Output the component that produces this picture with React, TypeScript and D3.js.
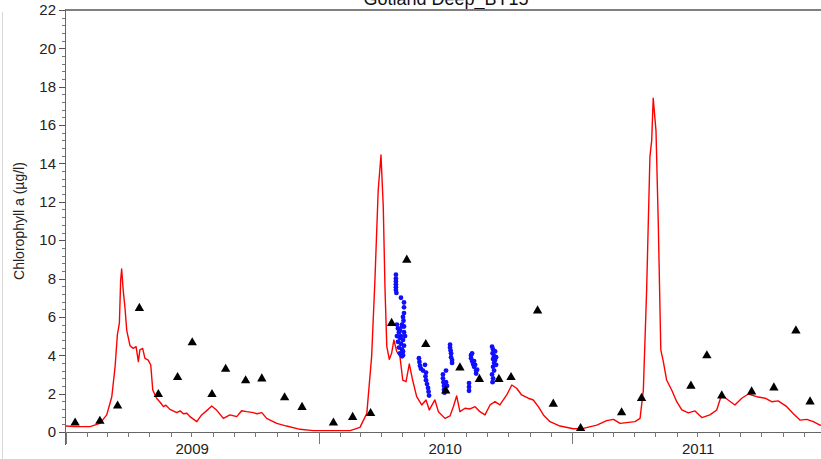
import React, { useEffect, useRef } from 'react'
import * as d3 from 'd3'

// model chlorophyll (decimal year, value)
const modelT = [
  2009.0, 2009.036, 2009.095, 2009.134, 2009.161, 2009.181, 2009.194, 2009.203, 2009.211, 2009.216,
  2009.22, 2009.226, 2009.233, 2009.24, 2009.253, 2009.266, 2009.277, 2009.286, 2009.292, 2009.303,
  2009.312, 2009.325, 2009.335, 2009.343, 2009.358, 2009.372, 2009.385, 2009.395, 2009.411, 2009.438,
  2009.451, 2009.464, 2009.478, 2009.49, 2009.517, 2009.536, 2009.562, 2009.576, 2009.596, 2009.622,
  2009.648, 2009.675, 2009.694, 2009.714, 2009.74, 2009.755, 2009.774, 2009.793, 2009.833, 2009.872,
  2009.925, 2009.977, 2010.03, 2010.123, 2010.162, 2010.189, 2010.208, 2010.221, 2010.234, 2010.245,
  2010.254, 2010.261, 2010.268, 2010.278, 2010.287, 2010.296, 2010.307, 2010.32, 2010.331, 2010.344,
  2010.357, 2010.37, 2010.386, 2010.406, 2010.423, 2010.436, 2010.458, 2010.472, 2010.498, 2010.518,
  2010.531, 2010.544, 2010.557, 2010.577, 2010.597, 2010.617, 2010.636, 2010.656, 2010.676, 2010.696,
  2010.715, 2010.742, 2010.762, 2010.781, 2010.801, 2010.827, 2010.847, 2010.867, 2010.887, 2010.913,
  2010.953, 2011.005, 2011.045, 2011.098, 2011.137, 2011.164, 2011.19, 2011.216, 2011.249, 2011.269,
  2011.282, 2011.295, 2011.308, 2011.315, 2011.321, 2011.332, 2011.341, 2011.351, 2011.361, 2011.374,
  2011.394, 2011.414, 2011.434, 2011.46, 2011.486, 2011.513, 2011.545, 2011.572, 2011.591, 2011.617,
  2011.644, 2011.671, 2011.697, 2011.73, 2011.763, 2011.789, 2011.815, 2011.849, 2011.875, 2011.901,
  2011.928, 2011.954, 2011.98, 2012.0
]
const modelV = [
  0.31, 0.28, 0.28, 0.45, 0.89, 1.84, 3.4, 5.06, 5.68, 7.9,
  8.5, 7.4, 6.5, 5.3, 4.5, 4.36, 4.45, 3.67, 4.28, 4.36,
  3.84, 3.75, 3.49, 2.19, 1.76, 1.55, 1.32, 1.4, 1.18, 1.01,
  1.1, 0.95, 0.98, 0.8, 0.54, 0.89, 1.18, 1.36, 1.13, 0.71,
  0.89, 0.8, 1.11, 1.06, 1.01, 0.95, 1.01, 0.71, 0.45, 0.31,
  0.14, 0.07, 0.07, 0.07, 0.24, 0.97, 3.93, 7.9, 12.6, 14.44,
  11.75, 7.4, 4.45, 3.79, 4.1, 4.8, 4.2, 3.93, 2.71, 2.62,
  3.55, 2.71, 1.84, 1.41, 1.67, 1.15, 1.67, 1.06, 0.71, 0.84,
  1.32, 1.88, 1.06, 1.24, 1.2, 1.32, 1.06, 0.89, 1.41, 1.58,
  1.41, 1.93, 2.45, 2.28, 1.93, 1.76, 1.67, 1.32, 0.89, 0.54,
  0.31, 0.17, 0.19, 0.36, 0.59, 0.66, 0.45, 0.49, 0.54, 0.71,
  2.19, 7.4, 14.35, 15.2, 17.4, 15.7, 10.9, 4.28, 3.67, 2.71,
  2.19, 1.58, 1.15, 1.0, 1.1, 0.75, 0.89, 1.15, 1.93, 1.67,
  1.41, 1.76, 1.98, 1.84, 1.76, 1.58, 1.62, 1.32, 0.95, 0.62,
  0.66, 0.54, 0.36, 0.3
]

// bottle samples (triangles)
const sampleT = [
  2009.036, 2009.134, 2009.204, 2009.29, 2009.365, 2009.441, 2009.499, 2009.577, 2009.631, 2009.71,
  2009.774, 2009.864, 2009.933, 2010.057, 2010.133, 2010.204, 2010.287, 2010.347, 2010.422, 2010.501,
  2010.557, 2010.634, 2010.711, 2010.759, 2010.864, 2010.926, 2011.034, 2011.196, 2011.275, 2011.47,
  2011.533, 2011.592, 2011.71, 2011.798, 2011.885, 2011.941
]
const sampleV = [
  0.48, 0.57, 1.36, 6.45, 1.96, 2.85, 4.66, 1.96, 3.28, 2.68,
  2.78, 1.79, 1.29, 0.48, 0.77, 0.97, 5.67, 8.97, 4.57, 2.15,
  3.35, 2.75, 2.75, 2.85, 6.32, 1.46, 0.19, 1.01, 1.76, 2.4,
  3.98, 1.89, 2.1, 2.31, 5.28, 1.58
]

// ferrybox / profile readings (blue dots)
const probeT = [
  2010.304, 2010.304, 2010.304, 2010.304, 2010.304, 2010.304, 2010.306,
  2010.324, 2010.336, 2010.336, 2010.336, 2010.332, 2010.334, 2010.328,
  2010.308, 2010.312, 2010.316, 2010.308, 2010.32, 2010.312, 2010.324, 2010.316, 2010.328, 2010.32, 2010.328,
  2010.336, 2010.336, 2010.34, 2010.332, 2010.336, 2010.332, 2010.32, 2010.324, 2010.328, 2010.332,
  2010.395, 2010.397, 2010.399, 2010.403, 2010.411, 2010.419, 2010.423, 2010.421, 2010.423, 2010.427,
  2010.431, 2010.433, 2010.435,
  2010.49, 2010.49, 2010.492, 2010.494, 2010.494, 2010.496, 2010.502, 2010.506, 2010.502,
  2010.518, 2010.518, 2010.52, 2010.522, 2010.522, 2010.526, 2010.526,
  2010.593, 2010.593, 2010.593, 2010.601, 2010.605, 2010.601, 2010.605, 2010.609, 2010.613, 2010.617,
  2010.621, 2010.625, 2010.613, 2010.621,
  2010.684, 2010.688, 2010.686, 2010.692, 2010.688, 2010.696, 2010.692, 2010.7, 2010.688, 2010.692,
  2010.684, 2010.688, 2010.686, 2010.696, 2010.7
]
const probeV = [
  8.2, 8.0, 7.85, 7.7, 7.55, 7.4, 7.25,
  7.0, 6.75, 6.5, 6.2, 6.0, 5.8, 5.6,
  5.6, 5.4, 5.2, 5.0, 4.9, 4.7, 4.6, 4.4, 4.3, 4.1, 3.95,
  5.5, 5.2, 5.0, 4.8, 4.5, 4.2, 5.3, 5.0, 5.5, 4.0,
  3.85, 3.65, 3.45, 3.3, 3.2, 3.5, 3.1, 2.9, 2.7, 2.5,
  2.3, 2.1, 1.9,
  3.0, 2.8, 2.6, 2.4, 2.2, 2.05, 3.2, 2.4, 2.6,
  4.55, 4.4, 4.25, 4.1, 3.9, 3.75, 3.6,
  2.55, 2.35, 2.15, 4.0, 4.1, 3.85, 3.7, 3.55, 3.4, 3.5,
  3.2, 3.25, 3.7, 3.05,
  4.45, 4.3, 4.1, 3.95, 3.8, 3.75, 3.6, 3.5, 3.4, 3.2,
  3.0, 2.8, 2.6, 4.2, 3.9
]

const years = [2009, 2010, 2011]
const title = 'Gotland Deep_BY15'
const yLabel = 'Chlorophyll a (µg/l)'

const toDate = (t: number) => {
  const y = Math.floor(t)
  const a = new Date(y, 0, 1).getTime()
  const b = new Date(y + 1, 0, 1).getTime()
  return new Date(a + (t - y) * (b - a))
}

export default function App() {
  const ref = useRef<SVGSVGElement>(null)

  useEffect(() => {
    const svg = d3.select(ref.current)
    svg.selectAll('*').remove()

    const W = 821
    const H = 459
    const left = 65
    const top = 10
    const bottom = 432
    const font = '"Liberation Sans", Arial, sans-serif'

    const x = d3.scaleTime()
      .domain([new Date(2009, 0, 1), new Date(2012, 0, 1)])
      .range([66, 825])
    const y = d3.scaleLinear().domain([0, 22]).range([bottom, top])

    svg.append('rect').attr('width', W).attr('height', H).attr('fill', '#fff')

    // faint frame line at the far left
    svg.append('line')
      .attr('x1', 2.5).attr('x2', 2.5).attr('y1', 12).attr('y2', H)
      .attr('stroke', '#d8d8d8')

    svg.append('defs').append('clipPath').attr('id', 'plot')
      .append('rect')
      .attr('x', left).attr('y', top - 2)
      .attr('width', W - left).attr('height', bottom - top + 4)

    // Title
    svg.append('text')
      .attr('x', 446).attr('y', 5)
      .attr('text-anchor', 'middle')
      .attr('font-family', font)
      .attr('font-size', '18px')
      .attr('fill', '#111')
      .text(title)

    // top border
    svg.append('line')
      .attr('x1', left).attr('x2', W).attr('y1', top).attr('y2', top)
      .attr('stroke', '#808080').attr('stroke-width', 2)

    // Y axis
    const ya = svg.append('g')
    ya.append('line')
      .attr('x1', left + 0.5).attr('x2', left + 0.5).attr('y1', top).attr('y2', bottom + 13)
      .attr('stroke', '#666')
    const minor = d3.range(0, 22.001, 0.4)
    ya.selectAll('line.minor').data(minor).enter().append('line')
      .attr('class', 'minor')
      .attr('x1', left - 3).attr('x2', left)
      .attr('y1', d => Math.round(y(d)) + 0.5).attr('y2', d => Math.round(y(d)) + 0.5)
      .attr('stroke', '#777')
    const major = d3.range(0, 22.001, 2)
    ya.selectAll('line.major').data(major).enter().append('line')
      .attr('class', 'major')
      .attr('x1', left - 6).attr('x2', left)
      .attr('y1', d => Math.round(y(d)) + 0.5).attr('y2', d => Math.round(y(d)) + 0.5)
      .attr('stroke', '#555')
    ya.selectAll('text').data(major).enter().append('text')
      .attr('x', left - 9).attr('y', d => y(d))
      .attr('dy', '0.35em')
      .attr('text-anchor', 'end')
      .attr('font-family', font)
      .attr('font-size', '15px')
      .attr('fill', '#222')
      .text(d => String(d))

    // Y Label
    svg.append('text')
      .attr('transform', `translate(24, ${(top + bottom) / 2}) rotate(-90)`)
      .attr('text-anchor', 'middle')
      .attr('font-family', font)
      .attr('font-size', '14px')
      .attr('fill', '#222')
      .text(yLabel)

    // X axis
    const xa = svg.append('g')
    xa.append('line')
      .attr('x1', left).attr('x2', W).attr('y1', bottom + 0.5).attr('y2', bottom + 0.5)
      .attr('stroke', '#666')
    const months = d3.timeMonth.range(new Date(2009, 0, 1), new Date(2012, 0, 2))
    xa.selectAll('line.m').data(months).enter().append('line')
      .attr('class', 'm')
      .attr('x1', d => Math.round(x(d)) + 0.5).attr('x2', d => Math.round(x(d)) + 0.5)
      .attr('y1', bottom).attr('y2', d => d.getMonth() === 0 ? bottom + 12 : bottom + 5)
      .attr('stroke', '#777')
    xa.selectAll('text').data(years).enter().append('text')
      .attr('x', d => x(new Date(d, 6, 2)))
      .attr('y', bottom + 22)
      .attr('text-anchor', 'middle')
      .attr('font-family', font)
      .attr('font-size', '15px')
      .attr('fill', '#222')
      .text(d => String(d))

    const plot = svg.append('g').attr('clip-path', 'url(#plot)')

    // model line
    const model = modelT.map((t, i) => ({ date: toDate(t), v: modelV[i] }))
    const line = d3.line<{ date: Date; v: number }>()
      .x(d => x(d.date))
      .y(d => y(d.v))
    plot.append('path')
      .datum(model)
      .attr('fill', 'none')
      .attr('stroke', '#ff0000')
      .attr('stroke-width', 1.4)
      .attr('stroke-linejoin', 'round')
      .attr('d', line)

    // blue probe dots
    const probe = probeT.map((t, i) => ({ date: toDate(t), v: probeV[i] }))
    plot.selectAll('circle').data(probe).enter().append('circle')
      .attr('cx', d => x(d.date))
      .attr('cy', d => y(d.v))
      .attr('r', 2.4)
      .attr('fill', '#1010ff')

    // triangles
    const samples = sampleT.map((t, i) => ({ date: toDate(t), v: sampleV[i] }))
    const tri = d3.symbol().type(d3.symbolTriangle).size(38)
    plot.selectAll('path.tri').data(samples).enter().append('path')
      .attr('class', 'tri')
      .attr('d', tri)
      .attr('transform', d => `translate(${x(d.date)}, ${y(d.v)})`)
      .attr('fill', '#000')
  }, [])

  return (
    <svg ref={ref} width={821} height={459}
      style={{ position: 'absolute', left: 0, top: 0, display: 'block' }} />
  )
}
